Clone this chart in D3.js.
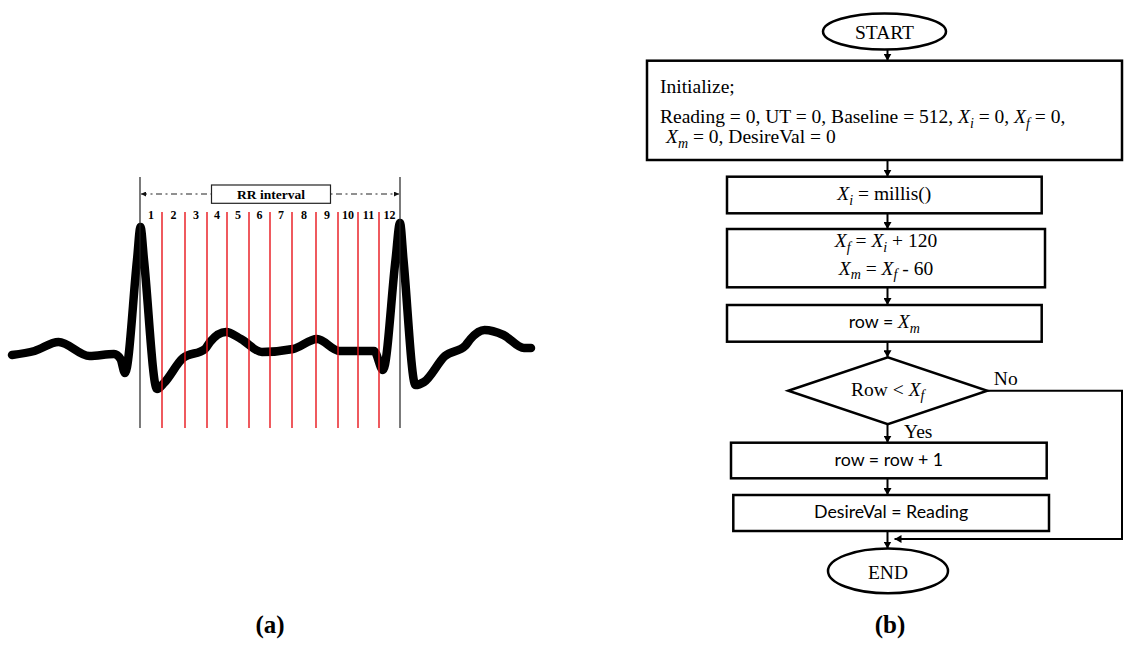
<!DOCTYPE html>
<html>
<head>
<meta charset="utf-8">
<script src="https://cdnjs.cloudflare.com/ajax/libs/d3/7.8.5/d3.min.js"></script>
<style>
  html, body { margin: 0; padding: 0; background: #fff; }
  svg { display: block; }
</style>
</head>
<body>
<div id="chart"></div>
<script>
'use strict';

const WIDTH = 1124;
const HEIGHT = 645;
const SERIF = '"Liberation Serif", "Times New Roman", serif';
const SANS = 'Lato, "Noto Sans", sans-serif';

// (a) ECG trace: time in ms, amplitude in mV
const ecgTime = [4, 49, 97, 159, 208, 221, 230, 254, 261, 268, 294, 308, 346, 390, 400, 432,
  462, 504, 566, 614, 659, 728, 746, 771, 780, 787, 811, 828, 870, 911, 921, 949, 987, 1028, 1042];
const ecgMv = [-0.03, 0.01, 0.10, -0.04, -0.02, -0.07, -0.21, 0.92, 1.25, 0.92, -0.37, -0.31,
  -0.06, 0.03, 0.10, 0.20, 0.13, 0.00, 0.03, 0.13, 0.01, 0.01, -0.18, 0.92, 1.29, 0.92, -0.33,
  -0.30, -0.04, 0.065, 0.13, 0.22, 0.17, 0.04, 0.04];

// R peaks bounding the interval, and the sampling lines in between (ms)
const rPeakTimes = [260, 780];
const sampleTimes = [304, 350, 394, 434, 478, 520, 564, 612, 656, 696, 738];
const segmentLabels = ['1', '2', '3', '4', '5', '6', '7', '8', '9', '10', '11', '12'];
const intervalLabel = 'RR interval';

// (b) flowchart steps
const flowNodes = [
  {id: 'start', shape: 'terminal', font: 'serif', lines: ['START']},
  {id: 'init', shape: 'process', font: 'serif', lines: [
    'Initialize;',
    'Reading = 0, UT = 0, Baseline = 512, $X_i$ = 0, $X_f$ = 0,',
    '$X_m$ = 0, DesireVal = 0']},
  {id: 'stamp', shape: 'process', font: 'serif', lines: ['$X_i$ = millis()']},
  {id: 'window', shape: 'process', font: 'serif', lines: ['$X_f$ = $X_i$ + 120', '$X_m$ = $X_f$ - 60']},
  {id: 'row', shape: 'process', font: 'sans', lines: ['row = $X_m$']},
  {id: 'check', shape: 'decision', font: 'serif', lines: ['Row < $X_f$']},
  {id: 'inc', shape: 'process', font: 'sans', lines: ['row = row + 1']},
  {id: 'store', shape: 'process', font: 'sans', lines: ['DesireVal = Reading']},
  {id: 'end', shape: 'terminal', font: 'serif', lines: ['END']},
];
const flowLinks = [
  {source: 'start', target: 'init'},
  {source: 'init', target: 'stamp'},
  {source: 'stamp', target: 'window'},
  {source: 'window', target: 'row'},
  {source: 'row', target: 'check'},
  {source: 'check', target: 'inc', label: 'Yes'},
  {source: 'inc', target: 'store'},
  {source: 'store', target: 'end'},
  {source: 'check', target: 'end', label: 'No', route: 'right'},
];
const panelLabels = ['(a)', '(b)'];

// page geometry (not data)
const flowLayout = {
  start: {x0: 823, y0: 13.5, x1: 946, y1: 49.5},
  init: {x0: 647, y0: 60.7, x1: 1122, y1: 160, textX: 660, baselines: [92.7, 123.3, 143.3]},
  stamp: {x0: 727, y0: 176.7, x1: 1041.7, y1: 213.3},
  window: {x0: 727, y0: 229, x1: 1045, y1: 287.3},
  row: {x0: 727, y0: 305, x1: 1041.7, y1: 341.7},
  check: {x0: 788.3, y0: 357.3, x1: 987.3, y1: 424.3},
  inc: {x0: 731, y0: 442.7, x1: 1046.7, y1: 478.3},
  store: {x0: 733.3, y0: 495, x1: 1049, y1: 531},
  end: {x0: 828, y0: 548.5, x1: 948, y1: 593.3},
};
const FLOW_X = 887.5;       // x of the vertical connectors
const RETURN_X = 1122;      // right-hand return line of the "No" branch
const RETURN_Y = 539;
const SERIF_SIZE = 19.5;
const SANS_SIZE = 17.8;

const svg = d3.select('#chart').append('svg')
    .attr('width', WIDTH)
    .attr('height', HEIGHT);

const defs = svg.append('defs');
defs.append('marker')
    .attr('id', 'head')
    .attr('viewBox', '0 0 10 10')
    .attr('refX', 10).attr('refY', 5)
    .attr('markerUnits', 'userSpaceOnUse')
    .attr('markerWidth', 7).attr('markerHeight', 8)
    .attr('preserveAspectRatio', 'none')
    .attr('orient', 'auto-start-reverse')
  .append('path')
    .attr('d', 'M0,0L10,5L0,10Z')
    .attr('fill', '#000');
defs.append('marker')
    .attr('id', 'smallHead')
    .attr('viewBox', '0 0 10 10')
    .attr('refX', 10).attr('refY', 5)
    .attr('markerUnits', 'userSpaceOnUse')
    .attr('markerWidth', 5).attr('markerHeight', 5)
    .attr('preserveAspectRatio', 'none')
    .attr('orient', 'auto-start-reverse')
  .append('path')
    .attr('d', 'M0,0L10,5L0,10Z')
    .attr('fill', '#111');

/**
 * Writes a label into a text element. Parts between $...$ are math: an
 * italic base letter with an optional italic subscript (X_i).
 */
function addRichText(text, str) {
  const SUB_DY = 4.5;
  let shift = 0;
  str.split('$').forEach((part, i) => {
    if (!part) return;
    if (i % 2 === 0) {
      text.append('tspan').attr('dy', -shift).text(part);
      shift = 0;
      return;
    }
    const [base, sub] = part.split('_');
    text.append('tspan')
        .attr('dy', -shift)
        .attr('font-family', SERIF)
        .attr('font-size', SERIF_SIZE)
        .attr('font-style', 'italic')
        .text(base);
    shift = 0;
    if (sub) {
      text.append('tspan')
          .attr('dy', SUB_DY)
          .attr('font-family', SERIF)
          .attr('font-size', SERIF_SIZE * 0.72)
          .attr('font-style', 'italic')
          .text(sub);
      shift = SUB_DY;
    }
  });
} // addRichText

/* ---------------- (a) ECG ---------------- */
function drawEcg() {
  const g = svg.append('g').attr('class', 'ecg');
  const x = d3.scaleLinear().domain([0, 1040]).range([10, 530]);
  const y = d3.scaleLinear().domain([0, 1]).range([352, 252]);
  const MARK_TOP = 177, RED_TOP = 212, MARK_BOTTOM = 428, ARROW_Y = 194;

  const line = d3.line()
      .x(d => x(d[0]))
      .y(d => y(d[1]))
      .curve(d3.curveMonotoneX);

  g.append('path')
      .datum(d3.zip(ecgTime, ecgMv))
      .attr('d', line)
      .attr('fill', 'none')
      .attr('stroke', '#000')
      .attr('stroke-width', 8.5)
      .attr('stroke-linejoin', 'round')
      .attr('stroke-linecap', 'round');

  g.selectAll('.sample')
      .data(sampleTimes)
    .enter().append('line')
      .attr('class', 'sample')
      .attr('x1', d => x(d)).attr('x2', d => x(d))
      .attr('y1', RED_TOP).attr('y2', MARK_BOTTOM)
      .attr('stroke', '#e8141b')
      .attr('stroke-width', 1.4);

  g.selectAll('.rpeak')
      .data(rPeakTimes)
    .enter().append('line')
      .attr('class', 'rpeak')
      .attr('x1', d => x(d)).attr('x2', d => x(d))
      .attr('y1', MARK_TOP).attr('y2', MARK_BOTTOM)
      .attr('stroke', '#222')
      .attr('stroke-width', 1.2);

  // dash-dot interval arrow with its label box
  g.append('line')
      .attr('x1', x(rPeakTimes[0]) + 1).attr('x2', x(rPeakTimes[1]) - 1)
      .attr('y1', ARROW_Y).attr('y2', ARROW_Y)
      .attr('stroke', '#222')
      .attr('stroke-width', 1.2)
      .attr('stroke-dasharray', '6,3.5,2,3.5')
      .attr('marker-start', 'url(#smallHead)')
      .attr('marker-end', 'url(#smallHead)');

  const mid = (x(rPeakTimes[0]) + x(rPeakTimes[1])) / 2 + 1;
  g.append('rect')
      .attr('x', mid - 59.5).attr('y', 185)
      .attr('width', 119).attr('height', 18.3)
      .attr('fill', '#fff')
      .attr('stroke', '#222')
      .attr('stroke-width', 1.2);
  g.append('text')
      .attr('x', mid).attr('y', 199)
      .attr('text-anchor', 'middle')
      .attr('font-family', SERIF)
      .attr('font-weight', 'bold')
      .attr('font-size', 13.5)
      .text(intervalLabel);

  // segment numbers sit between neighbouring lines
  const bounds = [rPeakTimes[0], ...sampleTimes, rPeakTimes[1]];
  g.selectAll('.seg')
      .data(d3.pairs(bounds))
    .enter().append('text')
      .attr('class', 'seg')
      .attr('x', d => (x(d[0]) + x(d[1])) / 2)
      .attr('y', 218.5)
      .attr('text-anchor', 'middle')
      .attr('font-family', SERIF)
      .attr('font-weight', 'bold')
      .attr('font-size', 12)
      .text((d, i) => segmentLabels[i]);
} // drawEcg

/* ---------------- (b) flowchart ---------------- */
function drawFlow() {
  const g = svg.append('g').attr('class', 'flow');

  // connectors first, shapes are white-filled on top
  flowLinks.forEach((link) => {
    const s = flowLayout[link.source];
    const t = flowLayout[link.target];
    let pts;
    if (link.route === 'right') {
      pts = [[s.x1, (s.y0 + s.y1) / 2], [RETURN_X, (s.y0 + s.y1) / 2],
        [RETURN_X, RETURN_Y], [FLOW_X + 7, RETURN_Y]];
    } else {
      pts = [[FLOW_X, s.y1], [FLOW_X, t.y0]];
    }
    g.append('path')
        .attr('d', d3.line()(pts))
        .attr('fill', 'none')
        .attr('stroke', '#000')
        .attr('stroke-width', 2)
        .attr('marker-end', 'url(#head)');
    if (link.label === 'No') {
      g.append('text')
          .attr('x', s.x1 + 6.5).attr('y', 385)
          .attr('font-family', SERIF).attr('font-size', SERIF_SIZE)
          .text(link.label);
    } else if (link.label) {
      g.append('text')
          .attr('x', FLOW_X + 16.5).attr('y', 438.3)
          .attr('font-family', SERIF).attr('font-size', SERIF_SIZE)
          .text(link.label);
    }
  });

  flowNodes.forEach((node) => {
    const b = flowLayout[node.id];
    const cx = (b.x0 + b.x1) / 2;
    const cy = (b.y0 + b.y1) / 2;
    let shape;
    if (node.shape === 'terminal') {
      shape = g.append('ellipse')
          .attr('cx', cx).attr('cy', cy)
          .attr('rx', (b.x1 - b.x0) / 2).attr('ry', (b.y1 - b.y0) / 2);
    } else if (node.shape === 'decision') {
      shape = g.append('polygon')
          .attr('points', [[b.x0, cy], [cx, b.y0], [b.x1, cy], [cx, b.y1]].join(' '));
    } else {
      shape = g.append('rect')
          .attr('x', b.x0).attr('y', b.y0)
          .attr('width', b.x1 - b.x0).attr('height', b.y1 - b.y0);
    }
    shape.attr('fill', '#fff').attr('stroke', '#000').attr('stroke-width', 2.5);

    const isSans = node.font === 'sans';
    const lineHeight = 27.5;
    const n = node.lines.length;
    node.lines.forEach((str, i) => {
      const left = b.textX !== undefined;
      let baseline;
      if (b.baselines) baseline = b.baselines[i];
      else if (node.shape === 'terminal') baseline = cy + 7.7;
      else baseline = cy + 5 + (i - (n - 1) / 2) * lineHeight - (n > 1 ? 2 : 0);
      const text = g.append('text')
          .attr('x', left ? b.textX + (i === 2 ? 6 : 0) : cx)
          .attr('y', baseline)
          .attr('text-anchor', left ? 'start' : 'middle')
          .attr('font-family', isSans ? SANS : SERIF)
          .attr('font-size', isSans ? SANS_SIZE : SERIF_SIZE);
      addRichText(text, str);
    });
  });
} // drawFlow

function drawPanelLabels() {
  svg.selectAll('.panel')
      .data(panelLabels)
    .enter().append('text')
      .attr('class', 'panel')
      .attr('x', (d, i) => [270, 890][i])
      .attr('y', 633)
      .attr('text-anchor', 'middle')
      .attr('font-family', SERIF)
      .attr('font-weight', 'bold')
      .attr('font-size', 25)
      .text(d => d);
} // drawPanelLabels

drawEcg();
drawFlow();
drawPanelLabels();
</script>
</body>
</html>
